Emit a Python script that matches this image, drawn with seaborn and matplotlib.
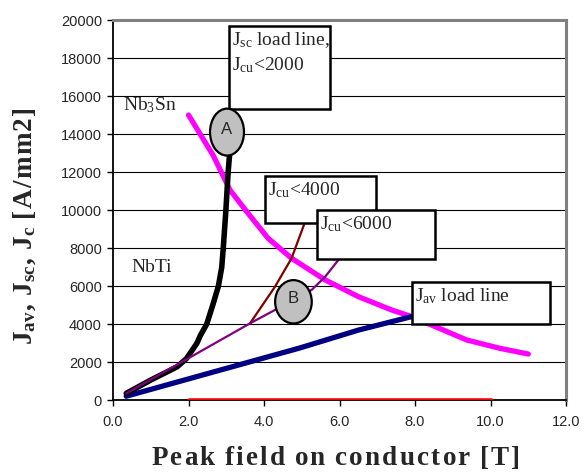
import numpy as np
import pandas as pd
import matplotlib.pyplot as plt
import seaborn as sns
from matplotlib.patches import Rectangle, Ellipse

sns.set_theme(style="white")
plt.rcParams['font.family'] = ['Liberation Sans', 'DejaVu Sans']
plt.rcParams['mathtext.fontset'] = 'custom'
plt.rcParams['mathtext.rm'] = 'Liberation Serif'
plt.rcParams['mathtext.it'] = 'Liberation Serif:italic'
plt.rcParams['mathtext.bf'] = 'Liberation Serif:bold'

# ---- data ----
jsc_x = [0.35, 1.0, 1.7, 1.95, 2.22, 2.32, 2.48, 2.64, 2.79, 2.88, 2.92, 2.99, 3.05, 3.1]
jsc_y = [350, 1050, 1750, 2190, 2980, 3420, 3980, 4980, 5980, 6980, 7980, 9980, 12000, 13200]

jcu6000_x = [0.35, 1.8, 3.63, 4.29, 5.26, 5.62, 5.97, 6.15]
jcu6000_y = [350, 1975, 4035, 4740, 5790, 6490, 7370, 7900]

jcu4000_x = [3.63, 4.29, 4.73, 5.04, 5.12]
jcu4000_y = [4035, 5960, 7460, 9120, 9600]

nb3sn_x = [2.0, 2.65, 3.1, 3.58, 4.11, 4.73, 5.62, 6.5, 7.38, 7.91, 9.37, 10.25, 11.0]
nb3sn_y = [15000, 12890, 11050, 9820, 8510, 7460, 6320, 5440, 4740, 4390, 3160, 2720, 2420]

jav_x = [0.35, 4.95, 6.5, 7.91, 8.5]
jav_y = [200, 2740, 3680, 4390, 4700]

nbti_x = [2.0, 10.0]
nbti_y = [0, 0]

x_ticks = [0, 2, 4, 6, 8, 10, 12]
y_ticks = list(range(0, 20001, 2000))


def spaced_bold(tokens, gap):
    # mathtext string with a little letter spacing, like the original
    parts = []
    for t in tokens:
        if t == ' ':
            parts.append(r'\hspace{0.25}')
        elif t.startswith('_'):
            parts[-1] = parts[-1] + r'_{\mathbf{' + t[1:] + '}}'
        else:
            parts.append(r'\mathbf{' + t + '}')
    return '$' + (r'\hspace{%g}' % gap).join(parts) + '$'


fig = plt.figure(figsize=(5.84, 4.73), dpi=100)
ax = fig.add_axes([0.1935, 0.1543, 0.9692 - 0.1935, 0.9577 - 0.1543])

for y in y_ticks[1:-1]:
    ax.axhline(y, color='black', lw=0.8, zorder=0)

kw = dict(ax=ax, sort=False, solid_capstyle='round')
sns.lineplot(x=nbti_x, y=nbti_y, color='#ff0000', lw=3.3, zorder=3, **kw)
sns.lineplot(x=nb3sn_x, y=nb3sn_y, color='#ff00ff', lw=3.8, zorder=3, **kw)
sns.lineplot(x=jav_x, y=jav_y, color='#000080', lw=3.8, zorder=3, **kw)
sns.lineplot(x=jsc_x, y=jsc_y, color='black', lw=4, zorder=4, **kw)
sns.lineplot(x=jcu4000_x, y=jcu4000_y, color='#800000', lw=1.6, zorder=4, **kw)
sns.lineplot(x=jcu6000_x, y=jcu6000_y, color='#800080', lw=1.6, zorder=5, **kw)

ax.set_xlim(0, 12)
ax.set_ylim(0, 20000)
ax.set_xticks(x_ticks)
ax.set_xticklabels([f"{v:.1f}" for v in x_ticks], fontsize=10.5)
ax.set_yticks(y_ticks)
ax.set_yticklabels([str(v) for v in y_ticks], fontsize=10.5)
ax.tick_params(axis='both', direction='out', length=4, width=1, color='black',
               pad=4, bottom=True, left=True)
ax.tick_params(axis='x', pad=7)

for side in ['left', 'bottom']:
    ax.spines[side].set_color('black')
    ax.spines[side].set_linewidth(1.3)
for side in ['top', 'right']:
    ax.spines[side].set_color('#808080')
    ax.spines[side].set_linewidth(2.2)

# annotation boxes
serif = 'Liberation Serif'
boxes = [
    ((3.07, 15320), 2.67, 4380, ["J$_\\mathrm{sc}$ load line,", "J$_\\mathrm{cu}$<2000"]),
    ((4.03, 9320), 2.94, 2470, ["J$_\\mathrm{cu}$<4000"]),
    ((5.40, 7420), 3.13, 2580, ["J$_\\mathrm{cu}$<6000"]),
    ((7.92, 4000), 3.66, 2210, ["J$_\\mathrm{av}$ load line"]),
]
for (x0, y0), w, h, lines in boxes:
    ax.add_patch(Rectangle((x0, y0), w, h, facecolor='white', edgecolor='black',
                           lw=1.8, zorder=6))
    for i, t in enumerate(lines):
        ax.text(x0 + 0.08, y0 + h - 250 - i * 1320, t, fontsize=14, family=serif,
                va='top', ha='left', zorder=7)

for (cx, cy), w, h, lab in [((3.02, 14100), 0.9, 2470, 'A'), ((4.78, 5170), 0.97, 2280, 'B')]:
    ax.add_patch(Ellipse((cx, cy), w, h, facecolor='#c0c0c0', edgecolor='black',
                         lw=1.6, zorder=8))
    ax.text(cx, cy + 150, lab, fontsize=12, ha='center', va='center', zorder=9)

ax.text(0.27, 15500, "Nb$_\\mathrm{3}$Sn", fontsize=14, family=serif, va='center')
ax.text(0.5, 7000, "NbTi", fontsize=14, family=serif, va='center')

xlab = spaced_bold(list("Peak field on conductor [T]"), 0.115)
ylab = spaced_bold(['J', '_av', ',', ' ', 'J', '_sc', ',', ' ', 'J', '_c', ' ',
                    '[', 'A', '/', 'm', 'm', '2', ']'], 0.07)
ax.set_xlabel(xlab, fontsize=19.5)
ax.set_ylabel(ylab, fontsize=19.5)
ax.xaxis.set_label_coords(0.492, -0.116)
ax.yaxis.set_label_coords(-0.166, 0.458)

fig.savefig('out.png', dpi=100)
